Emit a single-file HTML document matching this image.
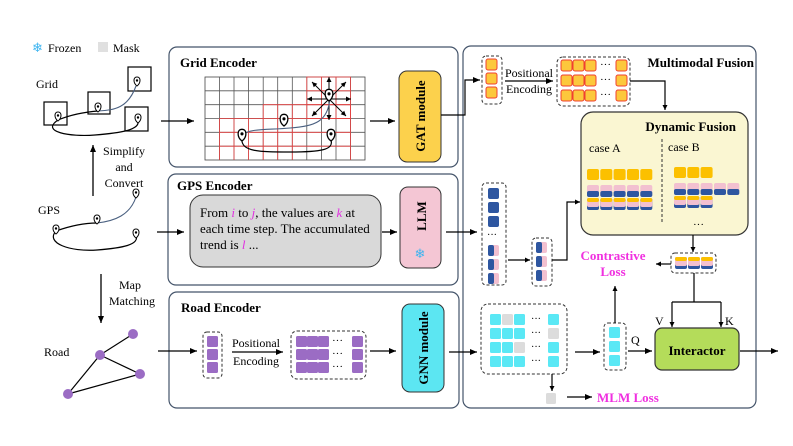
<!DOCTYPE html>
<html><head><meta charset="utf-8"><style>
html,body{margin:0;padding:0;background:#fff;}
svg{display:block;font-family:"Liberation Serif",serif;}
</style></head><body>
<svg width="793" height="446" viewBox="0 0 793 446" xmlns="http://www.w3.org/2000/svg">
<defs>
<marker id="ar" markerWidth="8" markerHeight="8" refX="7" refY="4" orient="auto" markerUnits="userSpaceOnUse"><path d="M0,1 L7,4 L0,7 Z" fill="#000"/></marker>
<marker id="ar2" markerWidth="6" markerHeight="6" refX="5" refY="3" orient="auto" markerUnits="userSpaceOnUse"><path d="M0,0.5 L5,3 L0,5.5 Z" fill="#000"/></marker>
<g id="pin"><path d="M0,0 C-4,-3 -4,-9 0,-9 C4,-9 4,-3 0,0 Z" fill="#fff" stroke="#000" stroke-width="1"/><circle cx="0" cy="-5.5" r="1.2" fill="#000"/></g>
<g id="yc"><rect width="11" height="11" rx="2" fill="#fcc83c" stroke="#f04030" stroke-width="1"/></g>
<g id="pb"><rect width="12" height="12" rx="2" fill="#f2c0d0"/><rect y="6" width="12" height="6" rx="2" fill="#2e56a0"/></g>
<g id="ypb"><rect width="12" height="12" rx="2" fill="#2e56a0"/><rect width="12" height="9" rx="2" fill="#f2c0d0"/><rect width="12" height="4" rx="2" fill="#fcc000"/></g>
<g id="cy"><rect width="11" height="11" rx="1.5" fill="#5ae8f5"/></g>
<g id="pu"><rect width="11" height="11" rx="1.5" fill="#9b6cc4"/></g>
<g id="bl"><rect width="11" height="11" rx="2" fill="#2e56a0"/></g>
<g id="bp"><rect width="11" height="11" rx="2" fill="#f2c0d0"/><rect width="6" height="11" rx="2" fill="#2e56a0"/></g>
</defs>

<rect x="169" y="47" width="289" height="120" rx="8" fill="#fff" stroke="#44546a" stroke-width="1.2"/>
<rect x="168" y="174" width="290" height="111" rx="8" fill="#fff" stroke="#44546a" stroke-width="1.2"/>
<rect x="169" y="292" width="290" height="116" rx="8" fill="#fff" stroke="#44546a" stroke-width="1.2"/>
<rect x="463" y="46" width="293" height="362" rx="8" fill="#fff" stroke="#44546a" stroke-width="1.2"/>

<text x="32" y="52" font-size="13" fill="#3cb4f0">❄</text>
<text x="48" y="52" font-size="12">Frozen</text>
<rect x="98" y="42" width="10" height="10" fill="#e0e0e0"/>
<text x="113" y="52" font-size="12">Mask</text>

<text x="36" y="88" font-size="12">Grid</text>
<rect x="44" y="102" width="23" height="23" fill="none" stroke="#000" stroke-width="1.2"/>
<rect x="88" y="92" width="22" height="22" fill="none" stroke="#000" stroke-width="1.2"/>
<rect x="128" y="67" width="23" height="24" fill="none" stroke="#000" stroke-width="1.2"/>
<rect x="125" y="107" width="23" height="24" fill="none" stroke="#000" stroke-width="1.2"/>
<path d="M58,120 C40,132 70,137 95,135 C120,133 140,130 138,121" fill="none" stroke="#000" stroke-width="1.2"/>
<path d="M58,120 C70,115 85,112 98,111" fill="none" stroke="#000" stroke-width="1.2"/>
<path d="M98,111 C115,110 128,108 136,86" fill="none" stroke="#4a6080" stroke-width="1.1"/>
<use href="#pin" x="58" y="121"/><use href="#pin" x="98" y="112"/><use href="#pin" x="138" y="123"/><use href="#pin" x="137" y="86"/>
<line x1="161" y1="121" x2="194" y2="121" stroke="#000" stroke-width="1.3" marker-end="url(#ar)"/>

<line x1="93" y1="196" x2="93" y2="145" stroke="#000" stroke-width="1.3" marker-end="url(#ar)"/>
<text x="124" y="155" font-size="12" text-anchor="middle">Simplify</text>
<text x="124" y="171" font-size="12" text-anchor="middle">and</text>
<text x="124" y="187" font-size="12" text-anchor="middle">Convert</text>

<text x="38" y="214" font-size="12">GPS</text>
<path d="M56,231 C45,243 70,252 97,250 C122,248 140,245 136,235" fill="none" stroke="#000" stroke-width="1.2"/>
<path d="M56,231 C70,226 85,223 97,223" fill="none" stroke="#000" stroke-width="1.2"/>
<path d="M97,223 C115,221 130,215 136,197" fill="none" stroke="#4a6080" stroke-width="1.1"/>
<use href="#pin" x="56" y="234"/><use href="#pin" x="97" y="224"/><use href="#pin" x="136" y="238"/><use href="#pin" x="136" y="198"/>
<line x1="157" y1="232" x2="184" y2="232" stroke="#000" stroke-width="1.3" marker-end="url(#ar)"/>

<line x1="101" y1="274" x2="101" y2="323" stroke="#000" stroke-width="1.3" marker-end="url(#ar)"/>
<text x="130" y="289" font-size="12" text-anchor="middle">Map</text>
<text x="132" y="305" font-size="12" text-anchor="middle">Matching</text>

<text x="44" y="356" font-size="12">Road</text>
<g stroke="#000" stroke-width="1.2"><line x1="133" y1="334" x2="100" y2="355"/><line x1="100" y1="355" x2="140" y2="374"/><line x1="100" y1="355" x2="68" y2="394"/><line x1="68" y1="394" x2="140" y2="374"/></g>
<g fill="#9b6cc4"><circle cx="133" cy="334" r="5"/><circle cx="100" cy="355" r="5"/><circle cx="140" cy="374" r="5"/><circle cx="68" cy="394" r="5"/></g>
<line x1="158" y1="351" x2="197" y2="351" stroke="#000" stroke-width="1.3" marker-end="url(#ar)"/>

<text x="180" y="67" font-size="13" font-weight="bold">Grid Encoder</text>
<text x="177" y="190" font-size="13" font-weight="bold">GPS Encoder</text>
<text x="181" y="312" font-size="13" font-weight="bold">Road Encoder</text>
<text x="754" y="67" font-size="13" font-weight="bold" text-anchor="end">Multimodal Fusion</text>

<g stroke="#444" stroke-width="0.8" fill="none">
<rect x="205" y="77" width="160" height="83"/>
</g>
<g stroke="#555" stroke-width="0.8">
<line x1="219.5" y1="77" x2="219.5" y2="160"/><line x1="234" y1="77" x2="234" y2="160"/><line x1="248.6" y1="77" x2="248.6" y2="160"/><line x1="263.2" y1="77" x2="263.2" y2="160"/><line x1="277.7" y1="77" x2="277.7" y2="160"/><line x1="292.3" y1="77" x2="292.3" y2="160"/><line x1="306.8" y1="77" x2="306.8" y2="160"/><line x1="321.4" y1="77" x2="321.4" y2="160"/><line x1="336" y1="77" x2="336" y2="160"/><line x1="350.5" y1="77" x2="350.5" y2="160"/>
<line x1="205" y1="90.8" x2="365" y2="90.8"/><line x1="205" y1="104.7" x2="365" y2="104.7"/><line x1="205" y1="118.5" x2="365" y2="118.5"/><line x1="205" y1="132.3" x2="365" y2="132.3"/><line x1="205" y1="146.2" x2="365" y2="146.2"/>
</g>
<g stroke="#e84040" stroke-width="0.8" fill="none">
<rect x="306.8" y="77" width="43.7" height="41.5"/>
<line x1="321.4" y1="77" x2="321.4" y2="118.5"/><line x1="336" y1="77" x2="336" y2="118.5"/>
<line x1="306.8" y1="90.8" x2="350.5" y2="90.8"/><line x1="306.8" y1="104.7" x2="350.5" y2="104.7"/>
<path d="M219.5,160 V118.5 H263.2 V104.7 H350.5 V160"/>
<line x1="219.5" y1="132.3" x2="350.5" y2="132.3"/><line x1="219.5" y1="146.2" x2="350.5" y2="146.2"/><line x1="263.2" y1="118.5" x2="350.5" y2="118.5"/>
<line x1="234" y1="118.5" x2="234" y2="160"/><line x1="248.6" y1="118.5" x2="248.6" y2="160"/><line x1="263.2" y1="118.5" x2="263.2" y2="160"/>
<line x1="277.7" y1="104.7" x2="277.7" y2="160"/><line x1="292.3" y1="104.7" x2="292.3" y2="160"/>
</g>
<g stroke="#000" stroke-width="1" marker-end="url(#ar2)">
<line x1="329" y1="99" x2="329" y2="77"/><line x1="329" y1="99" x2="329" y2="120"/><line x1="329" y1="99" x2="307" y2="99"/><line x1="329" y1="99" x2="351" y2="99"/>
<line x1="329" y1="99" x2="312" y2="82"/><line x1="329" y1="99" x2="346" y2="82"/><line x1="329" y1="99" x2="312" y2="116"/><line x1="329" y1="99" x2="346" y2="116"/>
</g>
<path d="M242,138 C240,152 260,152 290,152 C320,152 334,150 331,140" fill="none" stroke="#000" stroke-width="1.2"/>
<path d="M242,135 C250,128 270,130 290,128 C315,126 328,122 330,98" fill="none" stroke="#4a6080" stroke-width="1.1"/>
<g transform="translate(242,141) scale(1.3)"><use href="#pin"/></g>
<g transform="translate(284,126) scale(1.3)"><use href="#pin"/></g>
<g transform="translate(331,141) scale(1.3)"><use href="#pin"/></g>
<g transform="translate(329,101) scale(1.3)"><use href="#pin"/></g>
<line x1="370" y1="121" x2="395" y2="121" stroke="#000" stroke-width="1.3" marker-end="url(#ar)"/>

<rect x="399" y="71" width="42" height="91" rx="8" fill="#fcd14c" stroke="#333" stroke-width="1"/>
<text transform="translate(425,116) rotate(-90)" font-size="13" font-weight="bold" text-anchor="middle">GAT module</text>
<path d="M441,115 H465 V80 H480" fill="none" stroke="#000" stroke-width="1.2" marker-end="url(#ar)"/>

<rect x="190" y="195" width="191" height="72" rx="13" fill="#d9d9d9" stroke="#333" stroke-width="1"/>
<text font-size="13" x="200" y="217">From <tspan fill="#e030e0" font-style="italic">i</tspan> to <tspan fill="#e030e0" font-style="italic">j</tspan>, the values are <tspan fill="#e030e0" font-style="italic">k</tspan> at</text>
<text font-size="13" x="200" y="233">each time step. The accumulated</text>
<text font-size="13" x="200" y="249">trend is <tspan fill="#e030e0" font-style="italic">l</tspan> ...</text>
<line x1="382" y1="232" x2="397" y2="232" stroke="#000" stroke-width="1.3" marker-end="url(#ar)"/>
<rect x="400" y="187" width="41" height="81" rx="8" fill="#f4c6d4" stroke="#333" stroke-width="1"/>
<text transform="translate(426,216) rotate(-90)" font-size="13" font-weight="bold" text-anchor="middle">LLM</text>
<text x="420" y="258" font-size="13" fill="#3cb4f0" text-anchor="middle">❄</text>
<line x1="446" y1="232" x2="477" y2="232" stroke="#000" stroke-width="1.2" marker-end="url(#ar)"/>

<rect x="203" y="332" width="19" height="46" rx="4" fill="none" stroke="#333" stroke-dasharray="3,2"/>
<use href="#pu" x="207" y="336"/><use href="#pu" x="207" y="349"/><use href="#pu" x="207" y="362"/>
<text x="256" y="347" font-size="12" text-anchor="middle">Positional</text>
<text x="256" y="365" font-size="12" text-anchor="middle">Encoding</text>
<line x1="232" y1="352" x2="283" y2="352" stroke="#000" stroke-width="1.2" marker-end="url(#ar)"/>
<rect x="291" y="331" width="75" height="48" rx="6" fill="none" stroke="#333" stroke-dasharray="3,2"/>
<g>
<use href="#pu" x="296" y="336"/><use href="#pu" x="307" y="336"/><use href="#pu" x="318" y="336"/><use href="#pu" x="352" y="336"/>
<use href="#pu" x="296" y="349"/><use href="#pu" x="307" y="349"/><use href="#pu" x="318" y="349"/><use href="#pu" x="352" y="349"/>
<use href="#pu" x="296" y="362"/><use href="#pu" x="307" y="362"/><use href="#pu" x="318" y="362"/><use href="#pu" x="352" y="362"/>
</g>
<text x="332" y="344" font-size="11">···</text><text x="332" y="357" font-size="11">···</text><text x="332" y="370" font-size="11">···</text>
<line x1="370" y1="351" x2="396" y2="351" stroke="#000" stroke-width="1.3" marker-end="url(#ar)"/>
<rect x="402" y="304" width="42" height="88" rx="8" fill="#5ce6f2" stroke="#333" stroke-width="1"/>
<text transform="translate(428,348) rotate(-90)" font-size="13" font-weight="bold" text-anchor="middle">GNN module</text>
<line x1="449" y1="352" x2="477" y2="352" stroke="#000" stroke-width="1.3" marker-end="url(#ar)"/>

<rect x="482" y="56" width="20" height="48" rx="4" fill="none" stroke="#333" stroke-dasharray="3,2"/>
<use href="#yc" x="486" y="59"/><use href="#yc" x="486" y="73"/><use href="#yc" x="486" y="87"/>
<text x="529" y="77" font-size="12" text-anchor="middle">Positional</text>
<text x="529" y="93" font-size="12" text-anchor="middle">Encoding</text>
<line x1="505" y1="81" x2="553" y2="81" stroke="#000" stroke-width="1.2" marker-end="url(#ar)"/>
<rect x="557" y="57" width="73" height="49" rx="6" fill="none" stroke="#333" stroke-dasharray="3,2"/>
<use href="#yc" x="561" y="60"/><use href="#yc" x="573" y="60"/><use href="#yc" x="585" y="60"/><use href="#yc" x="616" y="60"/>
<use href="#yc" x="561" y="75"/><use href="#yc" x="573" y="75"/><use href="#yc" x="585" y="75"/><use href="#yc" x="616" y="75"/>
<use href="#yc" x="561" y="90"/><use href="#yc" x="573" y="90"/><use href="#yc" x="585" y="90"/><use href="#yc" x="616" y="90"/>
<text x="600" y="68" font-size="11">···</text><text x="600" y="83" font-size="11">···</text><text x="600" y="98" font-size="11">···</text>
<path d="M630,81 H665 V110" fill="none" stroke="#000" stroke-width="1.2" marker-end="url(#ar2)"/>

<rect x="581" y="112" width="167" height="123" rx="12" fill="#faf6d2" stroke="#333" stroke-width="1.2"/>
<text x="736" y="131" font-size="13" font-weight="bold" text-anchor="end">Dynamic Fusion</text>
<text x="589" y="152" font-size="12">case A</text>
<text x="668" y="151" font-size="12">case B</text>
<line x1="662" y1="139" x2="662" y2="222" stroke="#333" stroke-dasharray="3,2"/>
<g fill="#fcc000">
<rect x="587" y="169" width="12" height="11" rx="2"/><rect x="600.3" y="169" width="12" height="11" rx="2"/><rect x="613.6" y="169" width="12" height="11" rx="2"/><rect x="627" y="169" width="12" height="11" rx="2"/><rect x="640.3" y="169" width="12" height="11" rx="2"/>
<rect x="674" y="167" width="12" height="11" rx="2"/><rect x="687.3" y="167" width="12" height="11" rx="2"/><rect x="700.6" y="167" width="12" height="11" rx="2"/>
</g>
<use href="#pb" x="587" y="185"/><use href="#pb" x="600.3" y="185"/><use href="#pb" x="613.6" y="185"/><use href="#pb" x="627" y="185"/><use href="#pb" x="640.3" y="185"/>
<use href="#ypb" x="587" y="198"/><use href="#ypb" x="600.3" y="198"/><use href="#ypb" x="613.6" y="198"/><use href="#ypb" x="627" y="198"/><use href="#ypb" x="640.3" y="198"/>
<use href="#pb" x="674" y="183"/><use href="#pb" x="687.3" y="183"/><use href="#pb" x="700.6" y="183"/><use href="#pb" x="714" y="183"/><use href="#pb" x="727.3" y="183"/>
<use href="#ypb" x="674" y="196"/><use href="#ypb" x="687.3" y="196"/><use href="#ypb" x="700.6" y="196"/>
<text x="693" y="228" font-size="11">···</text>

<rect x="482" y="183" width="24" height="102" rx="4" fill="none" stroke="#333" stroke-dasharray="3,2"/>
<use href="#bl" x="488" y="188"/><use href="#bl" x="488" y="202"/><use href="#bl" x="488" y="216"/>
<text x="487" y="238" font-size="10">···</text>
<use href="#bp" x="488" y="245"/><use href="#bp" x="488" y="259"/><use href="#bp" x="488" y="273"/>
<line x1="508" y1="260" x2="530" y2="260" stroke="#000" stroke-width="1.2" marker-end="url(#ar2)"/>
<rect x="532" y="238" width="20" height="48" rx="4" fill="none" stroke="#333" stroke-dasharray="3,2"/>
<use href="#bp" x="536" y="242"/><use href="#bp" x="536" y="256"/><use href="#bp" x="536" y="270"/>
<path d="M552,260 H567 V202 H580" fill="none" stroke="#000" stroke-width="1.2" marker-end="url(#ar2)"/>

<line x1="693" y1="235" x2="693" y2="252" stroke="#000" stroke-width="1.2" marker-end="url(#ar2)"/>
<rect x="671" y="253" width="45" height="20" rx="4" fill="none" stroke="#333" stroke-dasharray="3,2"/>
<use href="#ypb" x="675" y="257"/><use href="#ypb" x="688" y="257"/><use href="#ypb" x="701" y="257"/>
<line x1="671" y1="264" x2="656" y2="264" stroke="#000" stroke-width="1.2" marker-end="url(#ar2)"/>
<text x="613" y="260" font-size="13" font-weight="bold" fill="#f030e0" text-anchor="middle">Contrastive</text>
<text x="613" y="276" font-size="13" font-weight="bold" fill="#f030e0" text-anchor="middle">Loss</text>
<path d="M694,273 V302 M672,302 H721" fill="none" stroke="#000" stroke-width="1.2"/>
<line x1="672" y1="302" x2="672" y2="327" stroke="#000" stroke-width="1.2" marker-end="url(#ar2)"/>
<line x1="721" y1="302" x2="721" y2="327" stroke="#000" stroke-width="1.2" marker-end="url(#ar2)"/>
<text x="655" y="325" font-size="12">V</text>
<text x="725" y="325" font-size="12">K</text>

<rect x="481" y="304" width="86" height="70" rx="7" fill="none" stroke="#333" stroke-dasharray="3,2"/>
<g>
<use href="#cy" x="490" y="314"/><rect x="502" y="314" width="11" height="11" rx="1.5" fill="#dcdcdc"/><use href="#cy" x="514" y="314"/><use href="#cy" x="548" y="314"/>
<use href="#cy" x="490" y="328"/><use href="#cy" x="502" y="328"/><use href="#cy" x="514" y="328"/><rect x="548" y="328" width="11" height="11" rx="1.5" fill="#dcdcdc"/>
<use href="#cy" x="490" y="342"/><use href="#cy" x="502" y="342"/><rect x="514" y="342" width="11" height="11" rx="1.5" fill="#dcdcdc"/><use href="#cy" x="548" y="342"/>
<use href="#cy" x="490" y="356"/><use href="#cy" x="502" y="356"/><use href="#cy" x="514" y="356"/><use href="#cy" x="548" y="356"/>
</g>
<text x="531" y="322" font-size="10">···</text><text x="531" y="336" font-size="10">···</text><text x="531" y="350" font-size="10">···</text><text x="531" y="364" font-size="10">···</text>
<line x1="575" y1="352" x2="600" y2="352" stroke="#000" stroke-width="1.3" marker-end="url(#ar)"/>
<line x1="552" y1="374" x2="552" y2="391" stroke="#000" stroke-width="1.2" marker-end="url(#ar2)"/>
<rect x="546" y="393" width="10" height="11" rx="1.5" fill="#dcdcdc"/>
<line x1="567" y1="397" x2="592" y2="397" stroke="#000" stroke-width="1.3" marker-end="url(#ar)"/>
<text x="597" y="402" font-size="13" font-weight="bold" fill="#f030e0">MLM  Loss</text>

<rect x="604" y="323" width="22" height="47" rx="4" fill="none" stroke="#333" stroke-dasharray="3,2"/>
<use href="#cy" x="609" y="327"/><use href="#cy" x="609" y="341"/><use href="#cy" x="609" y="355"/>
<line x1="615" y1="323" x2="615" y2="286" stroke="#000" stroke-width="1.2" marker-end="url(#ar2)"/>
<text x="631" y="344" font-size="12">Q</text>
<line x1="628" y1="351" x2="652" y2="351" stroke="#000" stroke-width="1.3" marker-end="url(#ar)"/>
<rect x="655" y="328" width="84" height="42" rx="7" fill="#b4dc5a" stroke="#333" stroke-width="1.2"/>
<text x="697" y="355" font-size="13" font-weight="bold" text-anchor="middle">Interactor</text>
<line x1="740" y1="351" x2="778" y2="351" stroke="#000" stroke-width="1.3" marker-end="url(#ar)"/>
</svg>
</body></html>
